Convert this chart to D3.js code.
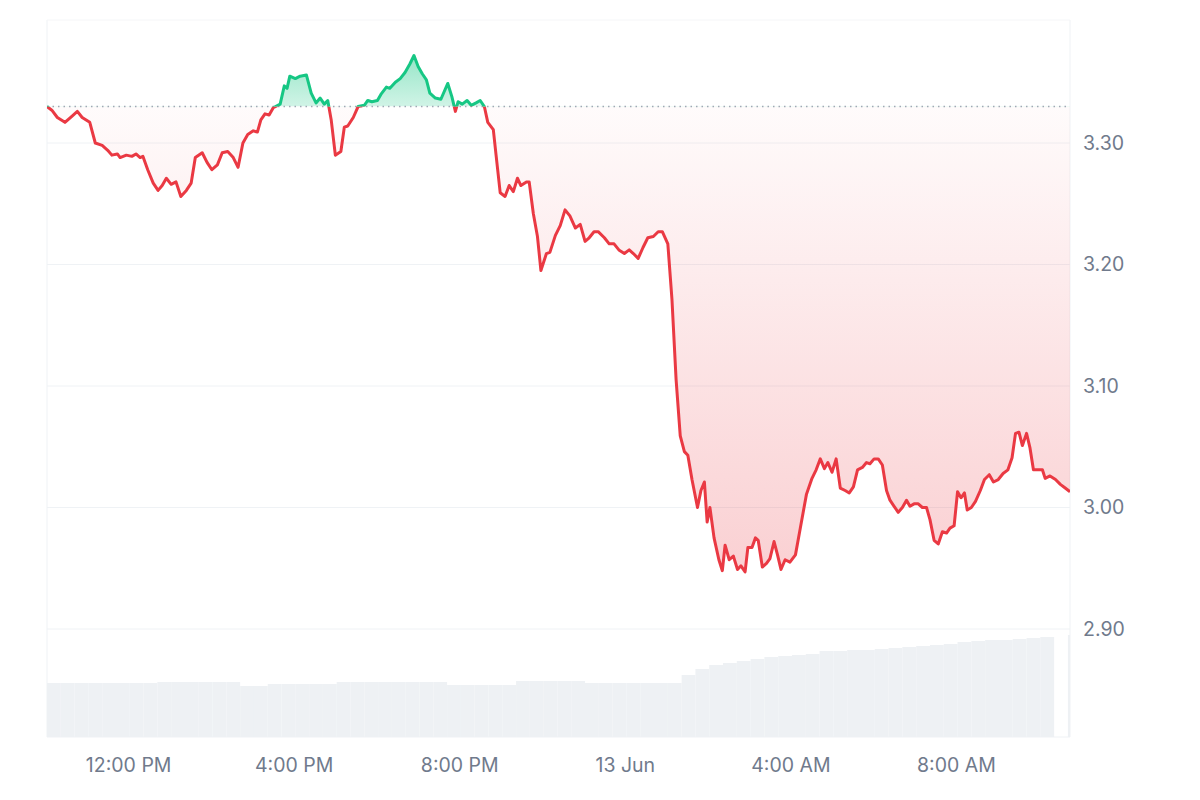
<!DOCTYPE html>
<html><head><meta charset="utf-8">
<script src="https://cdn.jsdelivr.net/npm/d3@7"></script>
<style>body{margin:0;background:#fff}svg{font-family:Inter,"Noto Sans",sans-serif}</style>
</head><body><svg id="c" width="1200" height="800"></svg>
<script>
const startTime = new Date(2024,5,12,9,58);
const minutes = [0,7,15,26,36,44,51,62,70,80,88,94,102,106,115,123,129,135,139,146,154,161,167,173,180,187,194,202,209,215,225,232,239,247,254,262,270,277,284,291,299,305,310,316,322,328,338,344,348,352,360,367,376,383,390,396,402,407,412,418,426,431,436,444,451,460,465,471,479,484,492,497,505,512,519,526,532,538,544,550,555,563,571,581,587,592,596,602,609,615,622,628,634,639,647,651,657,664,670,676,682,687,695,699,705,711,716,724,729,737,744,751,758,766,773,780,786,793,799,808,815,822,829,837,844,850,857,864,871,879,886,892,900,906,912,918,924,929,935,943,948,953,957,961,967,974,979,983,989,995,1001,1006,1012,1016,1022,1027,1031,1037,1043,1048,1054,1059,1064,1070,1077,1085,1092,1101,1109,1115,1121,1127,1132,1138,1144,1150,1157,1163,1169,1175,1182,1188,1193,1199,1205,1211,1217,1222,1228,1234,1240,1246,1251,1257,1263,1269,1275,1280,1286,1292,1298,1304,1309,1315,1320,1325,1330,1334,1340,1346,1353,1359,1366,1372,1379,1386,1393,1399,1404,1409,1414,1420,1425,1430,1437,1443,1447,1454,1462,1469,1476,1483];
const prices = [3.330,3.327,3.321,3.317,3.322,3.326,3.321,3.317,3.300,3.298,3.294,3.290,3.291,3.288,3.290,3.289,3.291,3.288,3.289,3.278,3.267,3.261,3.265,3.271,3.266,3.268,3.256,3.261,3.267,3.288,3.292,3.284,3.278,3.282,3.292,3.293,3.288,3.280,3.300,3.307,3.310,3.309,3.319,3.324,3.323,3.329,3.332,3.347,3.345,3.355,3.353,3.355,3.356,3.341,3.333,3.337,3.332,3.335,3.319,3.290,3.293,3.313,3.314,3.321,3.330,3.331,3.335,3.334,3.335,3.340,3.346,3.345,3.350,3.353,3.358,3.365,3.372,3.363,3.357,3.352,3.341,3.337,3.336,3.349,3.338,3.326,3.334,3.332,3.335,3.331,3.333,3.335,3.330,3.317,3.311,3.290,3.259,3.256,3.265,3.260,3.271,3.265,3.268,3.268,3.242,3.223,3.195,3.209,3.210,3.224,3.232,3.245,3.240,3.230,3.233,3.219,3.222,3.227,3.227,3.222,3.217,3.217,3.212,3.209,3.212,3.209,3.205,3.214,3.222,3.223,3.227,3.227,3.217,3.171,3.105,3.059,3.046,3.043,3.023,3.000,3.014,3.021,2.988,3.000,2.975,2.957,2.948,2.969,2.957,2.960,2.949,2.952,2.947,2.967,2.967,2.975,2.973,2.951,2.954,2.958,2.972,2.961,2.949,2.957,2.955,2.961,2.983,3.011,3.024,3.031,3.040,3.032,3.037,3.029,3.040,3.016,3.014,3.012,3.017,3.031,3.033,3.037,3.036,3.040,3.040,3.035,3.014,3.006,3.001,2.996,3.000,3.006,3.001,3.003,3.003,3.000,3.000,2.990,2.973,2.970,2.980,2.979,2.983,2.985,3.013,3.008,3.012,2.998,3.000,3.005,3.014,3.023,3.027,3.021,3.023,3.028,3.031,3.041,3.061,3.062,3.051,3.061,3.049,3.031,3.031,3.031,3.024,3.026,3.023,3.019,3.016,3.013];
const volMinutes20 = 20;
const volumes = [54,54,54,54,54,54,54,54,55,55,55,55,55,55,51,51,53,53,53,53,53,55,55,55,55,55,55,55,55,52,52,52,52,52,56,56,56,56,56,54,54,54,54,54,54,54,62,68,72,74,76,78,80,81,82,83,86,86,87,87,88,89,90,91,92,93,95,96,97,97,98,99,100,0,102];
const baseline = 3.33;
const yTicks = [2.90,3.00,3.10,3.20,3.30];
const xTickLabels = ["12:00 PM","4:00 PM","8:00 PM","13 Jun","4:00 AM","8:00 AM"];
const xTickTimes = [new Date(2024,5,12,12),new Date(2024,5,12,16),new Date(2024,5,12,20),new Date(2024,5,13,0),new Date(2024,5,13,4),new Date(2024,5,13,8)];

const data = minutes.map((m,i)=>({t:new Date(+startTime+m*60000), p:prices[i]}));
const svg = d3.select("#c");
const L=47,R=1070,T=20,B=737;
const x = d3.scaleTime().domain([startTime,new Date(+startTime+1483*60000)]).range([L,R]);
const y = d3.scaleLinear().domain([3.30,3.40]).range([143,21.5]);
const yv = d3.scaleLinear().domain([0,100]).range([B,637]);
const red="#ea3943", green="#16c784";

const defs = svg.append("defs");
const gr = defs.append("linearGradient").attr("id","gr").attr("gradientUnits","userSpaceOnUse").attr("x1",0).attr("x2",0).attr("y1",y(baseline)).attr("y2",y(2.94));
gr.append("stop").attr("offset",0).attr("stop-color",red).attr("stop-opacity",0.02);
gr.append("stop").attr("offset",1).attr("stop-color",red).attr("stop-opacity",0.24);
const gg = defs.append("linearGradient").attr("id","gg").attr("gradientUnits","userSpaceOnUse").attr("x1",0).attr("x2",0).attr("y1",y(3.372)).attr("y2",y(baseline));
gg.append("stop").attr("offset",0).attr("stop-color",green).attr("stop-opacity",0.45);
gg.append("stop").attr("offset",1).attr("stop-color",green).attr("stop-opacity",0.2);
defs.append("clipPath").attr("id","above").append("rect").attr("x",L).attr("y",0).attr("width",R-L).attr("height",y(baseline));
defs.append("clipPath").attr("id","below").append("rect").attr("x",L).attr("y",y(baseline)).attr("width",R-L).attr("height",B-y(baseline));

svg.append("g").selectAll("line").data(yTicks).join("line")
 .attr("x1",L).attr("x2",R).attr("y1",d=>y(d)).attr("y2",d=>y(d)).attr("stroke","#eff2f5").attr("stroke-width",1);
svg.append("line").attr("x1",L).attr("x2",L).attr("y1",T).attr("y2",B).attr("stroke","#eff2f5");
svg.append("line").attr("x1",R).attr("x2",R).attr("y1",T).attr("y2",B).attr("stroke","#eff2f5");
svg.append("line").attr("x1",L).attr("x2",R).attr("y1",T).attr("y2",T).attr("stroke","#f5f6f8");
svg.append("line").attr("x1",L).attr("x2",R).attr("y1",B).attr("y2",B).attr("stroke","#eff2f5");

const bw = x(new Date(+startTime+20*60000))-x(startTime);
svg.append("g").attr("id","vol").selectAll("rect").data(volumes).join("rect")
 .attr("x",(d,i)=>x(new Date(+startTime+i*volMinutes20*60000)))
 .attr("width",(d,i)=>Math.max(0,Math.min(bw,R-x(new Date(+startTime+i*volMinutes20*60000)))))
 .attr("y",d=>yv(d)).attr("height",d=>B-yv(d))
 .attr("fill","#eef1f4");

const area = d3.area().x(d=>x(d.t)).y0(y(baseline)).y1(d=>y(d.p));
const line = d3.line().x(d=>x(d.t)).y(d=>y(d.p));
svg.append("path").datum(data).attr("d",area).attr("fill","url(#gr)").attr("clip-path","url(#below)");
svg.append("path").datum(data).attr("d",area).attr("fill","url(#gg)").attr("clip-path","url(#above)");
svg.append("line").attr("x1",L).attr("x2",R).attr("y1",y(baseline)).attr("y2",y(baseline))
 .attr("stroke","#a0a8b4").attr("stroke-dasharray","1.5,4").attr("stroke-width",1.5);
svg.append("path").datum(data).attr("d",line).attr("fill","none").attr("stroke",red).attr("stroke-width",3).attr("stroke-linejoin","round").attr("clip-path","url(#below)");
svg.append("path").datum(data).attr("d",line).attr("fill","none").attr("stroke",green).attr("stroke-width",3).attr("stroke-linejoin","round").attr("clip-path","url(#above)");

const ya = d3.axisRight(y).tickValues(yTicks).tickFormat(d3.format(".2f")).tickSize(0).tickPadding(13);
svg.append("g").attr("transform",`translate(${R},0)`).call(ya).call(g=>g.select(".domain").remove())
 .selectAll("text").attr("fill","#707a8c").style("font-size","19.5px").style("font-family","Inter,sans-serif");
const xa = d3.axisBottom(x).tickValues(xTickTimes).tickFormat((d,i)=>xTickLabels[i]).tickSize(0).tickPadding(21);
svg.append("g").attr("transform",`translate(0,${B})`).call(xa).call(g=>g.select(".domain").remove())
 .selectAll("text").attr("fill","#707a8c").style("font-size","19.5px").style("font-family","Inter,sans-serif").attr("dx","-3");
</script></body></html>
